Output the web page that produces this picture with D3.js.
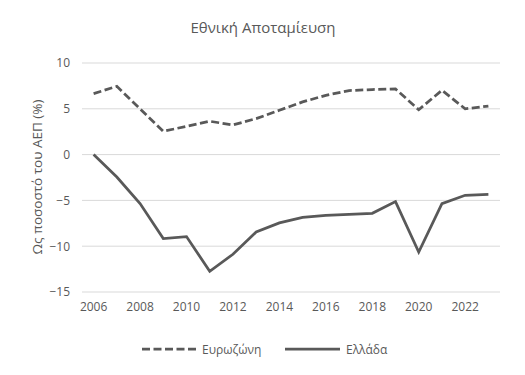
<!DOCTYPE html>
<html>
<head>
<meta charset="utf-8">
<script src="https://cdn.jsdelivr.net/npm/d3@7"></script>
<style>
  body { margin: 0; background: #fff; }
  text { font-family: "Open Sans", "Noto Sans", sans-serif; fill: #595959; }
</style>
</head>
<body>
<div id="chart"></div>
<script>
// chart data
const years = d3.range(2006, 2024);
const eurozone = [6.66, 7.45, 5.0, 2.54, 3.09, 3.64, 3.24, 3.93, 4.84, 5.75, 6.47, 6.99, 7.1, 7.17, 4.9, 7.02, 5.0, 5.3];
const greece = [0, -2.45, -5.35, -9.17, -8.95, -12.74, -10.88, -8.45, -7.46, -6.85, -6.63, -6.52, -6.41, -5.13, -10.63, -5.35, -4.44, -4.33];
const yTicks = [10, 5, 0, -5, -10, -15];
const xTickYears = [2006, 2008, 2010, 2012, 2014, 2016, 2018, 2020, 2022];

const width = 525, height = 375;
const margin = {top: 63, right: 25, bottom: 83, left: 82};
const color = '#595959';

const svg = d3.select('#chart').append('svg')
  .attr('width', width)
  .attr('height', height);

const x = d3.scaleBand().domain(years).range([margin.left, width - margin.right]);
const y = d3.scaleLinear().domain([-15, 10]).range([height - margin.bottom, margin.top]);
const cx = d => x(d) + x.bandwidth() / 2;

// gridlines
svg.append('g')
  .selectAll('line')
  .data(yTicks)
  .join('line')
  .attr('x1', margin.left)
  .attr('x2', width - margin.right)
  .attr('y1', d => y(d))
  .attr('y2', d => y(d))
  .attr('stroke', '#d9d9d9')
  .attr('stroke-width', 1);

// y axis labels
const yAxis = svg.append('g')
  .attr('transform', `translate(${margin.left - 12},0)`)
  .call(d3.axisLeft(y).tickValues(yTicks).tickSize(0).tickPadding(0));
yAxis.select('.domain').remove();
yAxis.selectAll('text').attr('font-size', 12).style('fill', color)
  .style('font-family', '"Open Sans", "Noto Sans", sans-serif');

// x axis labels
const xAxis = svg.append('g')
  .attr('transform', `translate(0,${height - margin.bottom + 10})`)
  .call(d3.axisBottom(x).tickValues(xTickYears).tickSize(0).tickPadding(0));
xAxis.select('.domain').remove();
xAxis.selectAll('text').attr('font-size', 12).style('fill', color)
  .style('font-family', '"Open Sans", "Noto Sans", sans-serif');

// lines
const line = d3.line()
  .x((d, i) => cx(years[i]))
  .y(d => y(d));

svg.append('path')
  .datum(eurozone)
  .attr('d', line)
  .attr('fill', 'none')
  .attr('stroke', color)
  .attr('stroke-width', 2.75)
  .attr('stroke-dasharray', '8,3.5');

svg.append('path')
  .datum(greece)
  .attr('d', line)
  .attr('fill', 'none')
  .attr('stroke', color)
  .attr('stroke-width', 2.75);

// title
svg.append('text')
  .attr('x', 263)
  .attr('y', 33)
  .attr('text-anchor', 'middle')
  .attr('font-size', 15)
  .text('Εθνική Αποταμίευση');

// y axis title
svg.append('text')
  .attr('transform', 'translate(42,177) rotate(-90)')
  .attr('text-anchor', 'middle')
  .attr('font-size', 13.5)
  .text('Ως ποσοστό του ΑΕΠ (%)');

// legend
const legend = svg.append('g').attr('transform', 'translate(0,349)');
legend.append('line')
  .attr('x1', 142).attr('x2', 197).attr('y1', 0).attr('y2', 0)
  .attr('stroke', color).attr('stroke-width', 2.75).attr('stroke-dasharray', '8,3.5');
legend.append('text')
  .attr('x', 202).attr('y', 4.5).attr('font-size', 12).text('Ευρωζώνη');
legend.append('line')
  .attr('x1', 285).attr('x2', 340).attr('y1', 0).attr('y2', 0)
  .attr('stroke', color).attr('stroke-width', 2.75);
legend.append('text')
  .attr('x', 346).attr('y', 4.5).attr('font-size', 12).text('Ελλάδα');
</script>
</body>
</html>
